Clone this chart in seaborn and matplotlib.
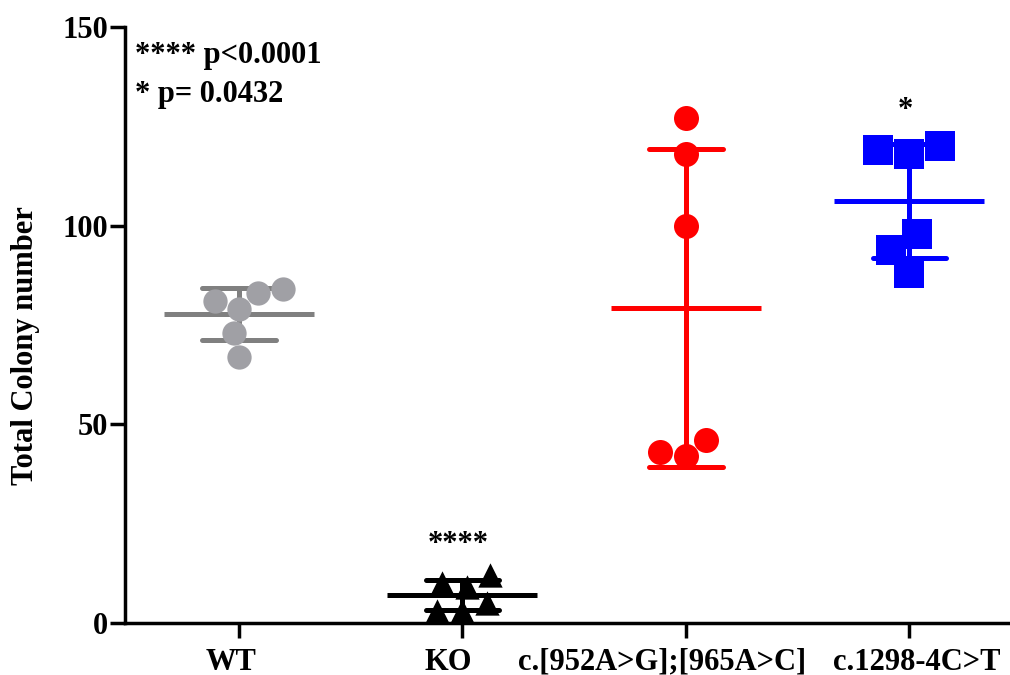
import pandas as pd
import seaborn as sns
import matplotlib as mpl
import matplotlib.pyplot as plt
from matplotlib.transforms import ScaledTranslation

sns.set_style("ticks")
mpl.rcParams["font.family"] = ["Liberation Serif", "DejaVu Serif"]
mpl.rcParams["font.weight"] = "bold"
for key in ["text.color", "axes.edgecolor", "axes.labelcolor", "xtick.color", "ytick.color"]:
    mpl.rcParams[key] = "black"

# data
groups = ["WT", "KO", "c.[952A>G];[965A>C]", "c.1298-4C>T"]
wt = [81, 84, 79, 83, 73, 67]
ko = [9, 3, 10, 3, 12, 5]
var1 = [127, 118, 100, 46, 42, 43]
var2 = [120, 118, 119, 98, 94, 88]
sig_marks = ["", "****", "", "*"]
legend_lines = ["**** p<0.0001", "* p= 0.0432"]

point_colors = ["#a0a0a5", "black", "#ff0000", "#0000ff"]
line_colors = ["#808080", "black", "#ff0000", "#0000ff"]
markers = ["o", "^", "o", "s"]
sizes = [17.5, 17.5, 18, 21.5]
label_shift = [-8, -14, -24, 7]  # px, tick labels are not quite centred in the original

df = pd.DataFrame({
    "group": [g for g, v in zip(groups, [wt, ko, var1, var2]) for _ in v],
    "value": wt + ko + var1 + var2,
})

fig = plt.figure(figsize=(10.1, 6.75), dpi=100)
ax = fig.add_axes([125 / 1010, 52 / 675, 885 / 1010, 596 / 675])

# mean line + SD error bars
sns.pointplot(
    data=df, x="group", y="value", hue="group", order=groups, hue_order=groups,
    palette=line_colors, errorbar="sd", capsize=0.33, markers="_",
    markersize=108, markeredgewidth=3.6, linestyle="none",
    err_kws={"linewidth": 3.6}, legend=False, ax=ax,
)

# individual points
for g, c, m, s in zip(groups, point_colors, markers, sizes):
    sns.swarmplot(
        data=df[df["group"] == g], x="group", y="value", order=groups,
        color=c, marker=m, size=s, linewidth=0, zorder=3, ax=ax,
    )

# significance stars
tops = df.groupby("group")["value"].max()
for i, (g, mark) in enumerate(zip(groups, sig_marks)):
    if mark:
        ax.text(i - 0.02, tops[g] + 7 if g != "KO" else 17.8, mark,
                ha="center", va="baseline", fontsize=22, fontweight="bold")

ax.text(0.011, 0.940, legend_lines[0], transform=ax.transAxes,
        ha="left", va="baseline", fontsize=22, fontweight="bold")
ax.text(0.011, 0.874, legend_lines[1], transform=ax.transAxes,
        ha="left", va="baseline", fontsize=22, fontweight="bold")

ax.set_ylim(0, 150)
ax.set_yticks([0, 50, 100, 150])
ax.set_xlim(-0.51, 3.45)
ax.set_xlabel("")
ax.set_ylabel("Total Colony number", fontsize=22, fontweight="bold")
ax.yaxis.set_label_coords(-0.096, 0.466)

sns.despine(ax=ax)
for side in ["left", "bottom"]:
    ax.spines[side].set_linewidth(2.5)
ax.tick_params(axis="both", length=10.8, width=2.5, labelsize=22)
ax.tick_params(axis="y", pad=1.5)
ax.tick_params(axis="x", pad=7)
for lab in ax.get_xticklabels() + ax.get_yticklabels():
    lab.set_fontweight("bold")
for lab, dx in zip(ax.get_xticklabels(), label_shift):
    lab.set_transform(lab.get_transform() + ScaledTranslation(dx / 100, 0, fig.dpi_scale_trans))

fig.savefig("out.png", dpi=100)
